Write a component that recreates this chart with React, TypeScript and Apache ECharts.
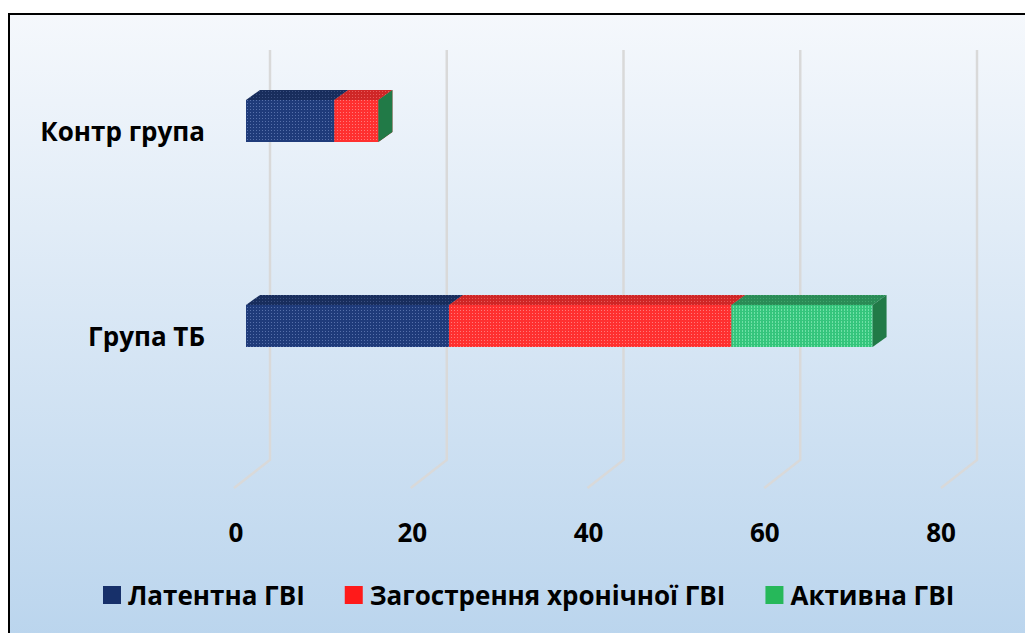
import React, { useEffect, useRef } from "react";
import * as echarts from "echarts";

const categories = ["Контр група", "Група ТБ"];
const seriesNames = ["Латентна ГВІ", "Загострення хронічної ГВІ", "Активна ГВІ"];
const latent = [10, 23];
const exacerbation = [5, 32];
const active = [0, 16];
const xTicks = [0, 20, 40, 60, 80];

const FONT = "'Open Sans', 'DejaVu Sans', sans-serif";
const FS = 26;
const DX = 14;
const DY = -10;
const BAR_H = 42;

function makePattern(base: string, light: string, cells: number[][], size = 3) {
  const c = document.createElement("canvas");
  c.width = size;
  c.height = size;
  const ctx = c.getContext("2d")!;
  ctx.fillStyle = base;
  ctx.fillRect(0, 0, size, size);
  ctx.fillStyle = light;
  cells.forEach(([x, y]) => ctx.fillRect(x, y, 1, 1));
  return { image: c.toDataURL(), repeat: "repeat", imageWidth: size, imageHeight: size } as any;
}

export default function App() {
  const ref = useRef<HTMLDivElement>(null);
  useEffect(() => {
    if (!ref.current) return;
    const chart = echarts.init(ref.current, undefined, { renderer: "svg" });

    const faces = [
      {
        front: makePattern("#1f3b7a", "#5670aa", [[1, 1]]),
        top: makePattern("#182d5c", "#3a4f80", [[1, 1]]),
        side: "#15284f",
        legend: "#17306a",
      },
      {
        front: makePattern("#ff3030", "#ff7a7a", [[1, 1]]),
        top: makePattern("#cf2626", "#e65a5a", [[1, 1]]),
        side: "#c42222",
        legend: "#ff1a1a",
      },
      {
        front: makePattern("#35c57c", "#6fe0a6", [[1, 0], [1, 1]]),
        top: makePattern("#2a8b56", "#3fa56c", [[1, 1]]),
        side: "#217a47",
        legend: "#26b85a",
      },
    ];

    const values = [latent, exacerbation, active];
    const starts = values.map((_, si) =>
      categories.map((__, ci) => values.slice(0, si).reduce((s, arr) => s + arr[ci], 0))
    );

    const barSeries = values.map((arr, si) => ({
      type: "custom",
      name: seriesNames[si],
      xAxisIndex: 2,
      yAxisIndex: 2,
      itemStyle: { color: faces[si].legend },
      encode: { x: [0, 1], y: 2 },
      data: categories.map((_, ci) => [starts[si][ci], starts[si][ci] + arr[ci], ci]),
      renderItem: (params: any, api: any) => {
        const s = api.value(0);
        const e = api.value(1);
        const c = api.value(2);
        const p0 = api.coord([s, c]);
        const p1 = api.coord([e, c]);
        const x0 = p0[0];
        const x1 = p1[0];
        const top = p0[1] - BAR_H / 2;
        const bot = p0[1] + BAR_H / 2;
        return {
          type: "group",
          children: [
            { type: "rect", shape: { x: x0, y: top, width: x1 - x0, height: BAR_H }, style: { fill: faces[si].front } },
            {
              type: "polygon",
              shape: { points: [[x0, top], [x1, top], [x1 + DX, top + DY], [x0 + DX, top + DY]] },
              style: { fill: faces[si].top },
            },
            {
              type: "polygon",
              shape: { points: [[x1, top], [x1 + DX, top + DY], [x1 + DX, bot + DY], [x1, bot]] },
              style: { fill: faces[si].side },
            },
          ],
        };
      },
    }));

    const gridSeries = {
      type: "custom",
      name: "grid",
      xAxisIndex: 0,
      yAxisIndex: 0,
      silent: true,
      data: xTicks.map((v) => [v, 0]),
      encode: { x: 0, y: 1 },
      renderItem: (params: any, api: any) => {
        const cs = params.coordSys;
        const p = api.coord([api.value(0), 0]);
        const yb = cs.y + cs.height;
        return {
          type: "polyline",
          shape: { points: [[p[0], cs.y], [p[0], yb], [p[0] - 36, yb + 28]] },
          style: { stroke: "#d9d9d9", lineWidth: 2.5, fill: "none" },
        };
      },
    };

    const hiddenAxis = { show: false };

    chart.setOption({
      animation: false,
      backgroundColor: "transparent",
      textStyle: { fontFamily: FONT },
      grid: [
        { left: 270, top: 50, width: 707, height: 410 },
        { left: 236, top: 50, width: 705, height: 465 },
        { left: 246, top: 18.5, width: 706, height: 410 },
        { left: 246, top: 28.5, width: 706, height: 410 },
      ],
      xAxis: [
        { gridIndex: 0, type: "value", min: 0, max: 80, ...hiddenAxis },
        {
          gridIndex: 1,
          type: "value",
          min: 0,
          max: 80,
          interval: 20,
          axisLine: { show: false },
          axisTick: { show: false },
          splitLine: { show: false },
          axisLabel: { color: "#000", fontSize: FS, fontWeight: "bold", fontFamily: FONT, margin: 4 },
        },
        { gridIndex: 2, type: "value", min: 0, max: 80, ...hiddenAxis },
        { gridIndex: 3, type: "value", min: 0, max: 80, ...hiddenAxis },
      ],
      yAxis: [
        { gridIndex: 0, type: "value", min: 0, max: 1, ...hiddenAxis },
        { gridIndex: 1, type: "value", min: 0, max: 1, ...hiddenAxis },
        { gridIndex: 2, type: "category", data: categories, inverse: true, ...hiddenAxis },
        {
          gridIndex: 3,
          type: "category",
          data: categories,
          inverse: true,
          axisLine: { show: false },
          axisTick: { show: false },
          splitLine: { show: false },
          axisLabel: { color: "#000", fontSize: FS, fontWeight: "bold", fontFamily: FONT, margin: 41 },
        },
      ],
      legend: {
        left: 103,
        top: 582,
        padding: 0,
        itemWidth: 18,
        itemHeight: 18,
        itemGap: 40,
        icon: "rect",
        textStyle: { color: "#000", fontSize: FS, fontWeight: "bold", fontFamily: FONT, padding: [0, 0, 0, 2] },
        data: seriesNames.map((n, i) => ({ name: n, itemStyle: { color: faces[i].legend } })),
      },
      series: [gridSeries, ...barSeries],
    });
    return () => chart.dispose();
  }, []);

  return (
    <div style={{ position: "fixed", left: 0, top: 0, width: 1025, height: 633, background: "#fff", overflow: "hidden" }}>
      <div
        style={{
          position: "absolute",
          left: 8,
          top: 13,
          width: 1040,
          height: 640,
          border: "2px solid #000",
          background: "linear-gradient(180deg, #f5f8fc 0%, #b9d4ed 100%)",
        }}
      />
      <div ref={ref} style={{ position: "absolute", left: 0, top: 0, width: 1025, height: 633 }} />
    </div>
  );
}
